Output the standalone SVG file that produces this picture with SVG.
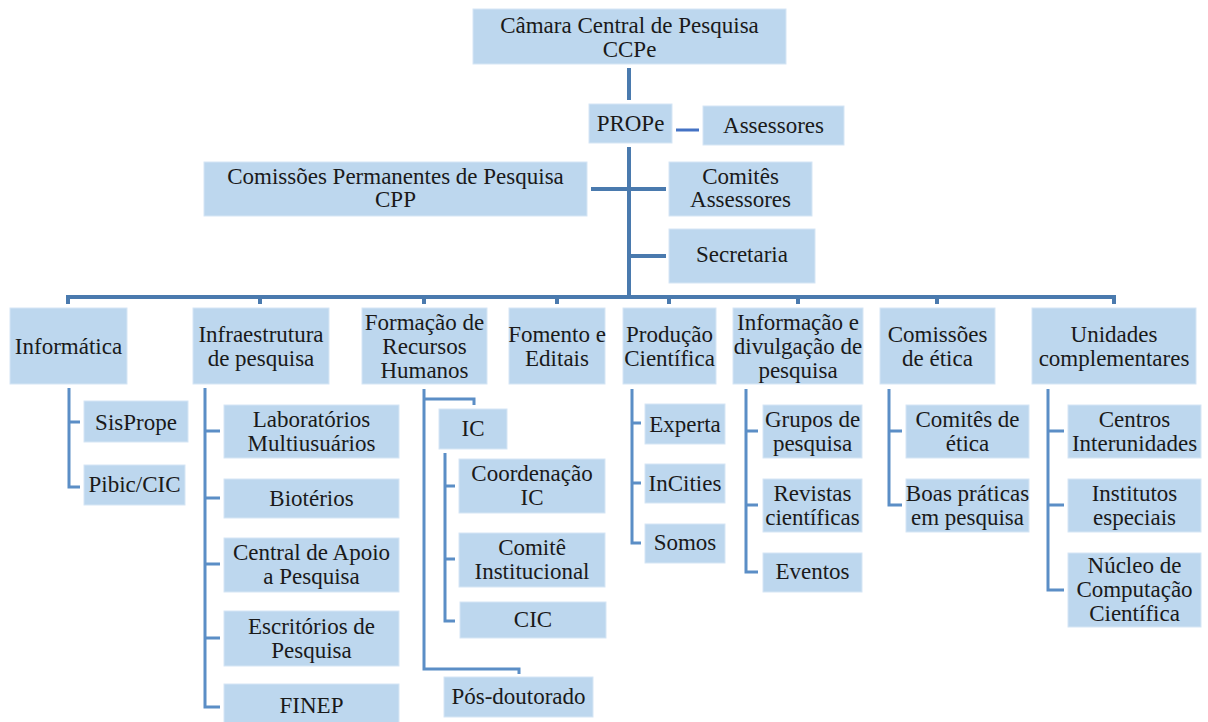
<svg xmlns="http://www.w3.org/2000/svg" width="1208" height="722" viewBox="0 0 1208 722">
<style>
.b{fill:#bdd7ee;stroke:#d6e6f5;stroke-width:1}
.m{fill:none;stroke:#4a7aae;stroke-width:4}
.c{fill:none;stroke:#5b8ec6;stroke-width:3}
</style>
<rect width="1208" height="722" fill="#ffffff"/>
<g id="connectors">
<path class="m" d="M629,68V100"/>
<path d="M676,130H699" fill="none" stroke="#4472c4" stroke-width="3"/>
<path class="m" d="M629,147V297"/>
<path class="m" stroke-width="3.5" d="M591,189H666M629,256H666"/>
<path class="m" stroke-width="3.5" d="M68,304V297H1114V304M260,297V304M424,297V304M557,297V304M669,297V304M798,297V304M937,297V304"/>
<path class="c" d="M69,388V487H80M69,422H80"/>
<path class="c" d="M205,388V707H220M205,431H220M205,498H220M205,564H220M205,638H220"/>
<path class="c" d="M424,389V669H519V674M424,399H474V405"/>
<path class="c" d="M445,453V621H455M445,486H455M445,559H455"/>
<path class="c" d="M632,389V543H641M632,423H641M632,483H641"/>
<path class="c" d="M746,389V572H758M746,431H758M746,505H758"/>
<path class="c" d="M889,389V505H902M889,431H902"/>
<path class="c" d="M1048,389V590H1064M1048,431H1064M1048,505H1064"/>
</g>
<g font-family="Liberation Serif, DejaVu Serif, serif" font-size="23" fill="#1a1a1a" text-anchor="middle">
<g id="ccpe"><rect class="b" x="473" y="9" width="313" height="55"/><text x="629.5" y="33">Câmara Central de Pesquisa</text><text x="629.5" y="57">CCPe</text></g>
<g id="prope"><rect class="b" x="589" y="104" width="83" height="39"/><text x="630.5" y="131">PROPe</text></g>
<g id="assessores"><rect class="b" x="703" y="106" width="141" height="39"/><text x="773.5" y="133">Assessores</text></g>
<g id="cpp"><rect class="b" x="204" y="162" width="383" height="54"/><text x="395.5" y="184">Comissões Permanentes de Pesquisa</text><text x="395.5" y="207">CPP</text></g>
<g id="comites"><rect class="b" x="669" y="162" width="143" height="54"/><text x="740.5" y="184">Comitês</text><text x="740.5" y="207">Assessores</text></g>
<g id="secretaria"><rect class="b" x="669" y="229" width="146" height="54"/><text x="742" y="262">Secretaria</text></g>
<g id="informatica"><rect class="b" x="10" y="308" width="117" height="76"/><text x="68.5" y="354">Informática</text></g>
<g id="infraestrutura"><rect class="b" x="193" y="308" width="136" height="76"/><text x="261" y="342">Infraestrutura</text><text x="261" y="366">de pesquisa</text></g>
<g id="formacao"><rect class="b" x="362" y="308" width="125" height="76"/><text x="424.5" y="330">Formação de</text><text x="424.5" y="354">Recursos</text><text x="424.5" y="378">Humanos</text></g>
<g id="fomento"><rect class="b" x="509" y="308" width="96" height="76"/><text x="557" y="342">Fomento e</text><text x="557" y="366">Editais</text></g>
<g id="producao"><rect class="b" x="623" y="308" width="93" height="76"/><text x="669.5" y="342">Produção</text><text x="669.5" y="366">Científica</text></g>
<g id="informacao"><rect class="b" x="733" y="308" width="130" height="76"/><text x="798" y="330">Informação e</text><text x="798" y="354">divulgação de</text><text x="798" y="378">pesquisa</text></g>
<g id="comissoes"><rect class="b" x="880" y="308" width="115" height="76"/><text x="937.5" y="342">Comissões</text><text x="937.5" y="366">de ética</text></g>
<g id="unidades"><rect class="b" x="1032" y="308" width="164" height="76"/><text x="1114" y="342">Unidades</text><text x="1114" y="366">complementares</text></g>
<g id="sisprope"><rect class="b" x="84" y="401" width="104" height="41"/><text x="136" y="430">SisPrope</text></g>
<g id="pibic"><rect class="b" x="84" y="465" width="101" height="40"/><text x="134.5" y="492">Pibic/CIC</text></g>
<g id="laboratorios"><rect class="b" x="224" y="405" width="175" height="53"/><text x="311.5" y="427">Laboratórios</text><text x="311.5" y="451">Multiusuários</text></g>
<g id="bioterios"><rect class="b" x="224" y="479" width="175" height="39"/><text x="311.5" y="506">Biotérios</text></g>
<g id="central"><rect class="b" x="224" y="538" width="175" height="54"/><text x="311.5" y="560">Central de Apoio</text><text x="311.5" y="584">a Pesquisa</text></g>
<g id="escritorios"><rect class="b" x="224" y="611" width="175" height="55"/><text x="311.5" y="634">Escritórios de</text><text x="311.5" y="658">Pesquisa</text></g>
<g id="finep"><rect class="b" x="224" y="684" width="175" height="42"/><text x="311.5" y="713">FINEP</text></g>
<g id="ic"><rect class="b" x="439" y="409" width="68" height="40"/><text x="473" y="436">IC</text></g>
<g id="coordenacao"><rect class="b" x="459" y="459" width="146" height="54"/><text x="532" y="481">Coordenação</text><text x="532" y="505">IC</text></g>
<g id="comite-institucional"><rect class="b" x="459" y="533" width="146" height="54"/><text x="532" y="555">Comitê</text><text x="532" y="579">Institucional</text></g>
<g id="cic"><rect class="b" x="460" y="602" width="146" height="36"/><text x="533" y="627">CIC</text></g>
<g id="posdoc"><rect class="b" x="444" y="677" width="149" height="40"/><text x="518.5" y="704">Pós-doutorado</text></g>
<g id="experta"><rect class="b" x="645" y="404" width="80" height="40"/><text x="685" y="432">Experta</text></g>
<g id="incities"><rect class="b" x="645" y="464" width="80" height="39"/><text x="685" y="491">InCities</text></g>
<g id="somos"><rect class="b" x="645" y="524" width="80" height="39"/><text x="685" y="550">Somos</text></g>
<g id="grupos"><rect class="b" x="763" y="405" width="99" height="53"/><text x="812.5" y="427">Grupos de</text><text x="812.5" y="451">pesquisa</text></g>
<g id="revistas"><rect class="b" x="763" y="479" width="99" height="53"/><text x="812.5" y="501">Revistas</text><text x="812.5" y="525">científicas</text></g>
<g id="eventos"><rect class="b" x="763" y="553" width="99" height="39"/><text x="812.5" y="579">Eventos</text></g>
<g id="comites-etica"><rect class="b" x="906" y="405" width="123" height="53"/><text x="967.5" y="427">Comitês de</text><text x="967.5" y="451">ética</text></g>
<g id="boas-praticas"><rect class="b" x="906" y="479" width="123" height="53"/><text x="967.5" y="501">Boas práticas</text><text x="967.5" y="525">em pesquisa</text></g>
<g id="centros"><rect class="b" x="1068" y="405" width="133" height="53"/><text x="1134.5" y="427">Centros</text><text x="1134.5" y="451">Interunidades</text></g>
<g id="institutos"><rect class="b" x="1068" y="479" width="133" height="53"/><text x="1134.5" y="501">Institutos</text><text x="1134.5" y="525">especiais</text></g>
<g id="nucleo"><rect class="b" x="1068" y="553" width="133" height="74"/><text x="1134.5" y="573">Núcleo de</text><text x="1134.5" y="597">Computação</text><text x="1134.5" y="621">Científica</text></g>
</g>
</svg>
